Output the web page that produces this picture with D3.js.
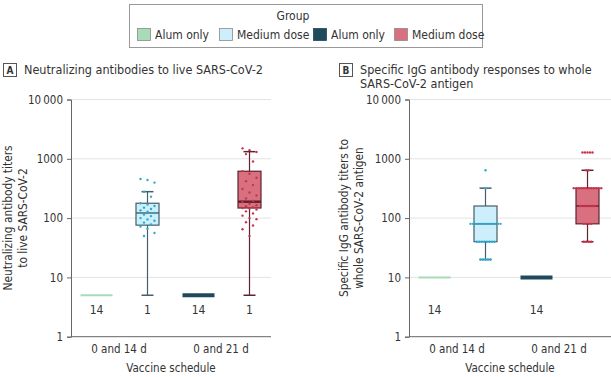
<!DOCTYPE html>
<html><head><meta charset="utf-8">
<script src="https://cdn.jsdelivr.net/npm/d3@7"></script>
<style>
body{margin:0;background:#fff;}
svg text{font-family:"Liberation Sans Narrow","DejaVu Sans Condensed","Roboto Condensed","Liberation Sans",sans-serif;fill:#333;}
</style></head>
<body>
<svg id="chart" width="611" height="377"></svg>
<script>
// --- data ---
var schedules = ["0 and 14 d", "0 and 21 d"];
var groups = ["Alum only", "Medium dose"];
var legendLabels = ["Alum only", "Medium dose", "Alum only", "Medium dose"];
var yTicks = [1, 10, 100, 1000, 10000];
var yTickLabels = ["1", "10", "100", "1000", "10\u2009000"];

// order: 14d alum, 14d medium, 21d alum, 21d medium
var neutLow    = [5, 5, 5, 5];
var neutQ1     = [5, 76, 5, 148];
var neutMedian = [5, 122, 5, 189];
var neutQ3     = [5, 178, 5, 617];
var neutHigh   = [5, 279, 5, 1320];
var neutCounts = ["14", "1", "14", "1"];
var neutPts14  = [456, 440, 397, 279, 230, 178, 170, 160, 150, 142, 135, 128, 122, 115, 108, 100, 95, 90, 84, 78, 72, 66, 56, 50];
var neutPts21  = [1500, 1400, 1300, 1200, 900, 620, 560, 480, 420, 360, 310, 270, 240, 215, 195, 185, 175, 165, 158, 152, 148, 145, 140, 130, 120, 110, 100, 96, 85, 75, 65, 50];

var iggLow    = [10, 20, 10, 40];
var iggQ1     = [10, 40, 10, 80];
var iggMedian = [10, 80, 10, 160];
var iggQ3     = [10, 160, 10, 320];
var iggHigh   = [10, 320, 10, 640];
var iggCounts = ["14", "", "14", ""];
var iggPts14  = [640, 320, 80, 80, 80, 80, 80, 80, 80, 80, 80, 80, 80, 80, 80,
                 40, 40, 40, 40, 40, 40, 40, 40, 20, 20, 20, 20, 20];
var iggPts21  = [1280, 1280, 1280, 1280, 1280, 640, 640,
                 320, 320, 320, 320, 320, 320, 320, 320, 320, 320, 320, 320,
                 160, 160, 160, 160, 160, 160, 160, 80, 80, 80, 80, 40, 40, 40, 40];

var fills   = ["#a8dcb9", "#cdeefb", "#1f4a5c", "#d9707f"];
var strokes = ["#a8dcb9", "#455e69", "#1f4a5c", "#5e2230"];
var dotCols = [null, "#29acd0", null, "#c9334c"];

var svg = d3.select("#chart");

// legend
var lg = svg.append("g");
lg.append("rect").attr("x", 129.5).attr("y", 4.5).attr("width", 353).attr("height", 43)
  .attr("fill", "#fff").attr("stroke", "#999");
lg.append("text").attr("x", 293).attr("y", 20).attr("text-anchor", "middle")
  .attr("font-size", 12).text("Group");
var legX = d3.scaleOrdinal().domain(d3.range(4)).range([137, 219, 313, 394]);
legendLabels.forEach(function(l, i) {
  lg.append("rect").attr("x", legX(i) + 0.5).attr("y", 28.5).attr("width", 13).attr("height", 12)
    .attr("fill", fills[i]).attr("stroke", i == 2 ? fills[i] : "#8a8a8a").attr("stroke-width", 0.8);
  lg.append("text").attr("x", legX(i) + 18).attr("y", 38.5).attr("font-size", 12).text(l);
});

function panel(o) {
  var g = svg.append("g");
  var y = d3.scaleLog().domain([1, 10000]).range([336.7, 99.5]);
  var x = d3.scaleBand().domain(schedules).range([o.x0, o.x0 + 204]);
  var off = [-25.5, 25.5];
  function cx(i) { return x(schedules[Math.floor(i / 2)]) + x.bandwidth() / 2 + off[i % 2]; }

  // panel letter + title
  g.append("rect").attr("x", o.bx + 0.5).attr("y", 63.5).attr("width", 13).attr("height", 13)
    .attr("fill", "#fff").attr("stroke", "#555");
  g.append("text").attr("x", o.bx + 7).attr("y", 74).attr("text-anchor", "middle")
    .attr("font-size", 10).attr("font-weight", "bold").text(o.letter);
  o.title.forEach(function(t, k) {
    g.append("text").attr("x", o.bx + 21).attr("y", 74 + k * 14).attr("font-size", 12.5).text(t);
  });

  // grid
  g.selectAll(".grid").data(yTicks.slice(1)).enter().append("line")
    .attr("x1", o.x0).attr("x2", o.x1).attr("y1", function(d) { return y(d); }).attr("y2", function(d) { return y(d); })
    .attr("stroke", "#e3e3e3");

  // axes
  var ya = g.append("g").attr("transform", "translate(" + o.x0 + ",0)")
    .call(d3.axisLeft(y).tickValues(yTicks).tickSize(4).tickFormat(function(d, i) { return yTickLabels[i]; }));
  ya.select(".domain").attr("stroke", "#666");
  ya.selectAll(".tick line").attr("stroke", "#666");
  ya.selectAll(".tick text").attr("font-size", 11.5).attr("fill", "#333").attr("dx", "-1");
  g.append("line").attr("x1", o.x0).attr("x2", o.x1).attr("y1", 336.7).attr("y2", 336.7).attr("stroke", "#666");
  g.selectAll(".cat").data(schedules).enter().append("text")
    .attr("x", function(d) { return x(d) + x.bandwidth() / 2 - 3; }).attr("y", 353)
    .attr("text-anchor", "middle").attr("font-size", 11.5).text(function(d) { return d; });
  g.append("text").attr("x", (o.x0 + o.x1) / 2).attr("y", 372).attr("text-anchor", "middle")
    .attr("font-size", 11.5).text("Vaccine schedule");
  var yt = g.append("text").attr("transform", "translate(" + o.ytx + ",218) rotate(-90)")
    .attr("text-anchor", "middle").attr("font-size", 11.8);
  o.ytitle.forEach(function(t, k) { yt.append("tspan").attr("x", 0).attr("dy", k ? 14.5 : 0).text(t); });

  // boxes
  d3.range(4).forEach(function(i) {
    var c = cx(i);
    if (i % 2 == 0) {
      g.append("line").attr("x1", c - 16).attr("x2", c + 16).attr("y1", y(o.med[i])).attr("y2", y(o.med[i]))
        .attr("stroke", fills[i]).attr("stroke-width", i == 0 ? 2 : 4);
    } else {
      var w = 23, s = strokes[i];
      g.append("line").attr("x1", c).attr("x2", c).attr("y1", y(o.low[i])).attr("y2", y(o.high[i]))
        .attr("stroke", s).attr("stroke-width", 1.2);
      [o.low[i], o.high[i]].forEach(function(v) {
        g.append("line").attr("x1", c - 6).attr("x2", c + 6).attr("y1", y(v)).attr("y2", y(v))
          .attr("stroke", s).attr("stroke-width", 1.5);
      });
      g.append("rect").attr("x", c - w / 2).attr("y", y(o.q3[i])).attr("width", w)
        .attr("height", y(o.q1[i]) - y(o.q3[i])).attr("fill", fills[i]).attr("stroke", s).attr("stroke-width", 1.2);
      g.append("line").attr("x1", c - w / 2).attr("x2", c + w / 2).attr("y1", y(o.med[i])).attr("y2", y(o.med[i]))
        .attr("stroke", s).attr("stroke-width", i == 3 && o.letter == "A" ? 2.5 : 1.4);
      var pts = i == 1 ? o.pts14 : o.pts21;
      // spread tied values sideways, otherwise small fixed jitter
      var cnt = d3.rollup(pts, function(v) { return v.length; }, function(d) { return d; });
      var seen = new Map();
      g.selectAll(".p" + i).data(pts).enter().append("circle")
        .attr("cx", function(d, k) {
          if (!o.ties) return c + ((k * 7) % 5 - 2) * o.jit;
          var j = seen.get(d) || 0; seen.set(d, j + 1);
          return c + (j - (cnt.get(d) - 1) / 2) * o.jit;
        })
        .attr("cy", function(d) { return y(d); }).attr("r", 1.2).attr("fill", dotCols[i]);
    }
    if (o.counts[i]) g.append("text").attr("x", c).attr("y", 314).attr("text-anchor", "middle")
      .attr("font-size", 12).text(o.counts[i]);
  });
}

panel({letter: "A", bx: 3, x0: 71, x1: 271, ytx: 12, jit: 3.5, ties: false,
  title: ["Neutralizing antibodies to live SARS-CoV-2"],
  ytitle: ["Neutralizing antibody titers", "to live SARS-CoV-2"],
  low: neutLow, q1: neutQ1, med: neutMedian, q3: neutQ3, high: neutHigh, counts: neutCounts,
  pts14: neutPts14, pts21: neutPts21});
panel({letter: "B", bx: 339, x0: 409, x1: 611, ytx: 348, jit: 2.5, ties: true,
  title: ["Specific IgG antibody responses to whole", "SARS-CoV-2 antigen"],
  ytitle: ["Specific IgG antibody titers to", "whole SARS-CoV-2 antigen"],
  low: iggLow, q1: iggQ1, med: iggMedian, q3: iggQ3, high: iggHigh, counts: iggCounts,
  pts14: iggPts14, pts21: iggPts21});
</script>
</body></html>
